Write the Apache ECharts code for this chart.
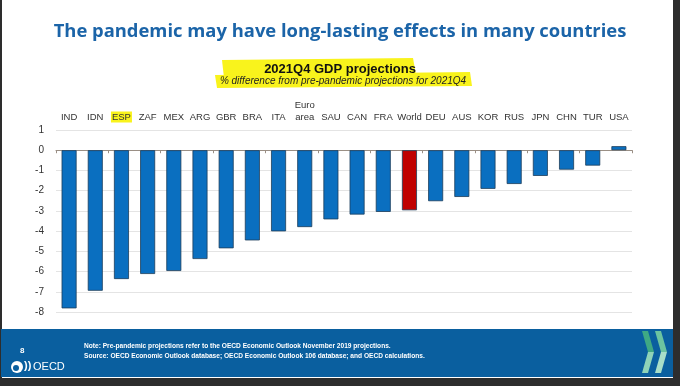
<!DOCTYPE html>
<html><head><meta charset="utf-8">
<script src="https://cdn.jsdelivr.net/npm/echarts@6/dist/echarts.min.js"></script>
<style>html,body{margin:0;padding:0;background:#2d2d2d;}#c{width:680px;height:386px;}</style>
</head><body><div id="c"></div>
<script>
const categories = ['IND','IDN','ESP','ZAF','MEX','ARG','GBR','BRA','ITA','Euro\narea','SAU','CAN','FRA','World','DEU','AUS','KOR','RUS','JPN','CHN','TUR','USA'];
const values = [-7.82,-6.95,-6.37,-6.12,-5.97,-5.38,-4.85,-4.46,-4.01,-3.8,-3.42,-3.18,-3.05,-2.97,-2.52,-2.31,-1.91,-1.67,-1.27,-0.96,-0.76,0.2];
const highlightCategory = 'World';
const markedLabel = 'ESP';
const yTicks = {min: -8, max: 1, interval: 1};

const FN = "'Liberation Sans Narrow','Liberation Sans',Arial,sans-serif";
const YEL = '#f9f31c';
const chart = echarts.init(document.getElementById('c'));
chart.setOption({
  backgroundColor: '#2d2d2d',
  animation: false,
  graphic: [
    {type:'rect', shape:{x:2,y:0,width:671,height:378}, style:{fill:'#ffffff'}, z:-10},
    {type:'rect', shape:{x:1,y:329,width:672,height:48}, style:{fill:'#0a5f9f'}, z:-9},
    {type:'polygon', shape:{points:[[222,60],[413,58],[416,75],[224,78]]}, style:{fill:YEL}, z:-5},
    {type:'polygon', shape:{points:[[215,75],[470,72],[472,86],[217,88]]}, style:{fill:YEL}, z:-5},
    {type:'text', x:340, y:69, style:{text:'2021Q4 GDP projections', font:"bold 13px 'Liberation Sans',Arial,sans-serif", fill:'#111', align:'center', verticalAlign:'middle'}},
    {type:'text', x:343, y:81, style:{text:'% difference from pre-pandemic projections for 2021Q4', font:"italic 10px "+FN, fill:'#222', align:'center', verticalAlign:'middle'}},
    {type:'text', x:20, y:347, style:{text:'8', font:"bold 8px "+FN, fill:'#ffffff'}},
    {type:'circle', shape:{cx:17,cy:367,r:6}, style:{fill:'#ffffff'}},
    {type:'circle', shape:{cx:16,cy:368,r:3}, style:{fill:'#0a5f9f'}},
    {type:'text', x:24, y:360, style:{text:'))', font:"bold 11px 'Liberation Sans',Arial,sans-serif", fill:'#ffffff'}},
    {type:'text', x:33, y:361, style:{text:'OECD', font:"11px 'Liberation Sans',Arial,sans-serif", fill:'#ffffff'}},
    {type:'text', x:84, y:341, style:{text:'Note: Pre-pandemic projections refer to the OECD Economic Outlook November 2019 projections.\nSource: OECD Economic Outlook database; OECD Economic Outlook 106 database; and OECD calculations.', font:"bold 6.6px "+FN, fill:'#ffffff', lineHeight:10}},
    {type:'polygon', shape:{points:[[642,331],[648,331],[654,352],[648,352]]}, style:{fill:'#3fa884'}},
    {type:'polygon', shape:{points:[[648,352],[654,352],[648,373],[642,373]]}, style:{fill:'#8fd3b8'}},
    {type:'polygon', shape:{points:[[655,331],[661,331],[667,352],[661,352]]}, style:{fill:'#6cc3a0'}},
    {type:'polygon', shape:{points:[[661,352],[667,352],[661,373],[655,373]]}, style:{fill:'#a8dec8'}}
  ],
  title: {
    text: 'The pandemic may have long-lasting effects in many countries',
    left: 'center', top: 18,
    textStyle: {fontFamily: "'Open Sans',sans-serif", fontWeight: 'bold', fontSize: 18.4, color: '#1b64a8'}
  },
  grid: {left: 56, right: 48, top: 130, bottom: 74},
  xAxis: [
    {type:'category', data:categories, position:'top',
     axisLine:{show:false,onZero:false}, axisTick:{show:false},
     axisLabel:{interval:0, margin:7, fontFamily:FN, fontSize:9.5, color:'#333', lineHeight:12,
       formatter: v => v === markedLabel ? '{hl|'+v+'}' : v,
       rich:{hl:{backgroundColor:YEL, fontFamily:FN, fontSize:9.5, color:'#333', padding:[1,1,0,1]}}}},
    {type:'category', data:categories, position:'bottom',
     axisLine:{show:true,onZero:true,lineStyle:{color:'#9a8f85',width:1}},
     axisTick:{show:true,length:3,lineStyle:{color:'#9a8f85'}},
     axisLabel:{show:false}}
  ],
  yAxis: {type:'value', min:yTicks.min, max:yTicks.max, interval:yTicks.interval,
    axisLine:{show:false}, axisTick:{show:false},
    axisLabel:{margin:12, fontFamily:FN, fontSize:10, color:'#333'},
    splitLine:{lineStyle:{color:'#e4e4e4'}}},
  series: [{
    type:'bar', xAxisIndex:0, barWidth:15,
    data: values.map((v,i) => ({value:v, itemStyle:{color: categories[i]===highlightCategory ? '#c00000' : '#0a6fc0'}})),
    itemStyle:{borderColor:'#1d3d5a', borderWidth:0.8}
  }]
});
</script></body></html>
